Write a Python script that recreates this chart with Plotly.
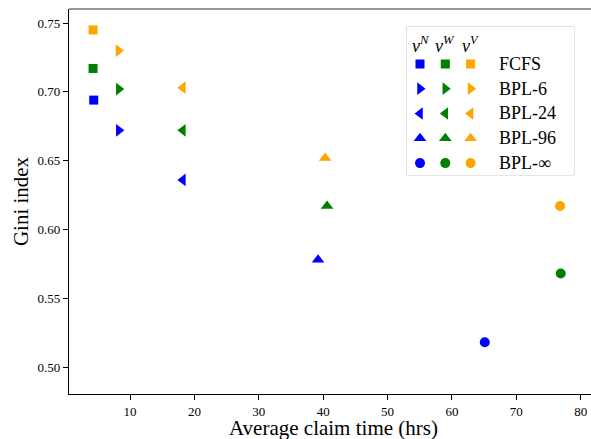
import plotly.graph_objects as go

# Policies and marker symbols
policies = ["FCFS", "BPL-6", "BPL-24", "BPL-96", "BPL-∞"]
symbols = ["square", "triangle-right", "triangle-left", "triangle-up", "circle"]
sizes = [9, 11, 11, 11, 10]

# Series: (legend header, colour, avg claim time, Gini index)
series_names = ["N", "W", "V"]
series_colors = ["#0000ff", "#008000", "#ffa500"]

x_N = [4.35, 8.25, 18.2, 39.2, 65.1]
y_N = [0.694, 0.672, 0.636, 0.578, 0.518]
x_W = [4.25, 8.25, 18.2, 40.6, 76.9]
y_W = [0.717, 0.702, 0.672, 0.617, 0.568]
x_V = [4.25, 8.2, 18.2, 40.3, 76.8]
y_V = [0.745, 0.730, 0.703, 0.652, 0.617]

xs = [x_N, x_W, x_V]
ys = [y_N, y_W, y_V]

x_ticks = [10, 20, 30, 40, 50, 60, 70, 80]
y_ticks = [0.50, 0.55, 0.60, 0.65, 0.70, 0.75]

FONT = "Liberation Serif, Times New Roman, serif"
W, H = 591, 439
ML, MR, MT, MB = 69, 0, 9, 45

fig = go.Figure()

for name, col, x, y in zip(series_names, series_colors, xs, ys):
    fig.add_trace(go.Scatter(
        x=x, y=y, mode="markers", name=name,
        marker=dict(symbol=symbols, color=col, size=sizes, opacity=1,
                    line=dict(width=0)),
        hoverinfo="skip", showlegend=False,
    ))

# Custom three-column legend drawn on an overlay axis
pw, ph = W - ML - MR, H - MT - MB
box_px = (406.7, 26.7, 574.0, 175.0)  # left, top, right, bottom in pixels
dom_x = [(box_px[0] - ML) / pw, (box_px[2] - ML) / pw]
dom_y = [(H - MB - box_px[3]) / ph, (H - MB - box_px[1]) / ph]

fig.add_shape(type="rect", xref="paper", yref="paper",
              x0=dom_x[0], x1=dom_x[1], y0=dom_y[0], y1=dom_y[1],
              line=dict(color="#cccccc", width=1), fillcolor="white", layer="below")

for ci, col in enumerate(series_colors):
    fig.add_trace(go.Scatter(
        x=[ci] * len(policies), y=list(range(len(policies))),
        mode="markers", xaxis="x2", yaxis="y2",
        marker=dict(symbol=symbols, color=col, size=sizes, opacity=1,
                    line=dict(width=0)),
        hoverinfo="skip", showlegend=False,
    ))
    fig.add_annotation(xref="x2", yref="y2", x=ci, y=-0.8,
                       text=f"<i>ν</i><sup><i>{series_names[ci]}</i></sup>",
                       showarrow=False, font=dict(family=FONT, size=18, color="black"))

for ri, p in enumerate(policies):
    fig.add_annotation(xref="x2", yref="y2", x=3.05, y=ri, xanchor="left",
                       text=p, showarrow=False,
                       font=dict(family=FONT, size=18, color="black"))

# X-axis title, placed just under the tick labels
fig.add_annotation(xref="paper", yref="paper", x=0.506, y=-(414.5 - (H - MB)) / ph,
                   yanchor="top", xanchor="center", showarrow=False, borderpad=0,
                   text="Average claim time (hrs)",
                   font=dict(family=FONT, size=21, color="black"))

# Top frame line
fig.add_shape(type="line", xref="paper", yref="paper", x0=0, x1=1, y0=1, y1=1,
              line=dict(color="#333333", width=1))

fig.update_layout(
    width=W, height=H,
    margin=dict(l=ML, r=MR, t=MT, b=MB),
    paper_bgcolor="white", plot_bgcolor="white",
    font=dict(family=FONT, size=13, color="black"),
    xaxis=dict(
        range=[0.51, 81.6], tickvals=x_ticks, ticks="outside", ticklen=5,
        tickcolor="black", showline=True, linecolor="black", linewidth=1.2,
        showgrid=False, zeroline=False, automargin=False,
        tickfont=dict(size=13),
    ),
    yaxis=dict(
        range=[0.4804, 0.7602], tickvals=y_ticks, tickformat=".2f", ticks="outside",
        ticklen=5, tickcolor="black", showline=True, linecolor="black", linewidth=1.2,
        showgrid=False, zeroline=False, automargin=False,
        title=dict(text="Gini index", font=dict(size=21), standoff=3),
        tickfont=dict(size=13),
    ),
    xaxis2=dict(domain=dom_x, range=[-0.526, 6.09], visible=False, anchor="y2"),
    yaxis2=dict(domain=dom_y, range=[4.48, -1.50], visible=False, anchor="x2"),
)

fig.write_html("out.html")
